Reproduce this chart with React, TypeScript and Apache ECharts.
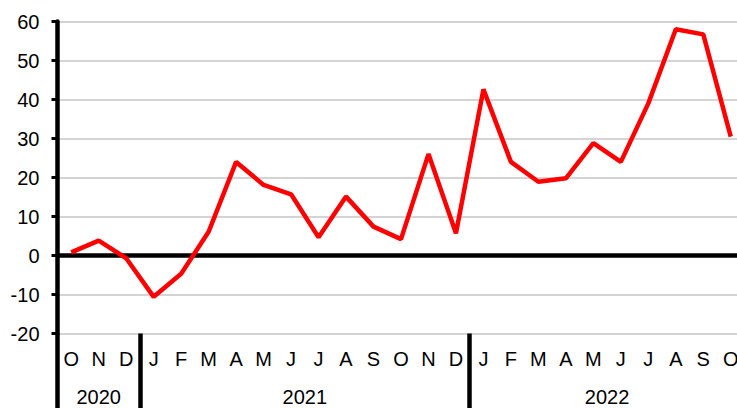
import React, { useEffect, useRef } from "react";
import * as echarts from "echarts";

const months: string[] = [
  "O", "N", "D",
  "J", "F", "M", "A", "M", "J", "J", "A", "S", "O", "N", "D",
  "J", "F", "M", "A", "M", "J", "J", "A", "S", "O",
];
const years: string[] = ["2020", "2021", "2022"];
const monthsPerYear: number[] = [3, 12, 10];
const values: number[] = [
  0.8, 3.8, -0.7,
  -10.6, -4.7, 6.1, 24.0, 18.1, 15.7, 4.7, 15.1, 7.4, 4.2, 26.0, 5.7,
  42.6, 24.0, 18.9, 19.8, 28.8, 24.0, 39.0, 58.0, 56.7, 30.5,
];
const yMin = -20;
const yMax = 60;
const yStep = 10;

const FONT = "'Liberation Sans', Arial, sans-serif";
const FS = 20;

const yearStarts: number[] = [];
{
  let acc = 0;
  for (const n of monthsPerYear) {
    yearStarts.push(acc);
    acc += n;
  }
}

export default function App() {
  const ref = useRef<HTMLDivElement>(null);
  useEffect(() => {
    if (!ref.current) return;
    document.body.style.overflow = "hidden";
    const chart = echarts.init(ref.current, null, { renderer: "svg" });
    const option: any = {
      animation: false,
      backgroundColor: "#ffffff",
      grid: { left: 57.5, top: 21.5, width: 687, height: 312, containLabel: false },
      xAxis: [
        {
          type: "category",
          data: months,
          position: "bottom",
          axisLine: { show: true, onZero: true, lineStyle: { color: "#000", width: 4.5 } },
          axisTick: { show: false },
          axisLabel: { show: false },
          splitLine: { show: false },
        },
        {
          type: "category",
          data: months,
          position: "bottom",
          axisLine: { show: false, onZero: false },
          axisTick: {
            show: true,
            length: 80,
            interval: (index: number) => yearStarts.indexOf(index) >= 0,
            lineStyle: { color: "#000", width: 4.5 },
          },
          axisLabel: {
            show: true,
            interval: 0,
            margin: 15,
            color: "#000",
            fontSize: FS,
            fontFamily: FONT,
          },
          splitLine: { show: false },
        },
      ],
      yAxis: {
        type: "value",
        min: yMin,
        max: yMax,
        interval: yStep,
        axisLine: { show: true, lineStyle: { color: "#000", width: 4.5 } },
        axisTick: { show: true, length: 6, lineStyle: { color: "#000", width: 3 } },
        axisLabel: { color: "#000", fontSize: FS, fontFamily: FONT, margin: 18 },
        splitLine: { show: true, lineStyle: { color: "#c6c6c6", width: 1.5 } },
      },
      series: [
        {
          type: "line",
          xAxisIndex: 0,
          data: values,
          symbol: "none",
          lineStyle: { color: "#ff0000", width: 4.5 },
          z: 3,
        },
      ],
    };
    chart.setOption(option);

    const graphics: any[] = [];
    let acc = 0;
    monthsPerYear.forEach((n, i) => {
      const first = chart.convertToPixel({ xAxisIndex: 1 }, acc) as number;
      const last = chart.convertToPixel({ xAxisIndex: 1 }, acc + n - 1) as number;
      graphics.push({
        type: "text",
        x: (first + last) / 2,
        y: 397,
        style: {
          text: years[i],
          fill: "#000",
          fontSize: FS,
          fontFamily: FONT,
          align: "center",
          verticalAlign: "middle",
        },
      });
      acc += n;
    });
    chart.setOption({ graphic: graphics });

    return () => chart.dispose();
  }, []);
  return (
    <div
      ref={ref}
      style={{ position: "fixed", left: 0, top: 0, width: 760, height: 408 }}
    />
  );
}
